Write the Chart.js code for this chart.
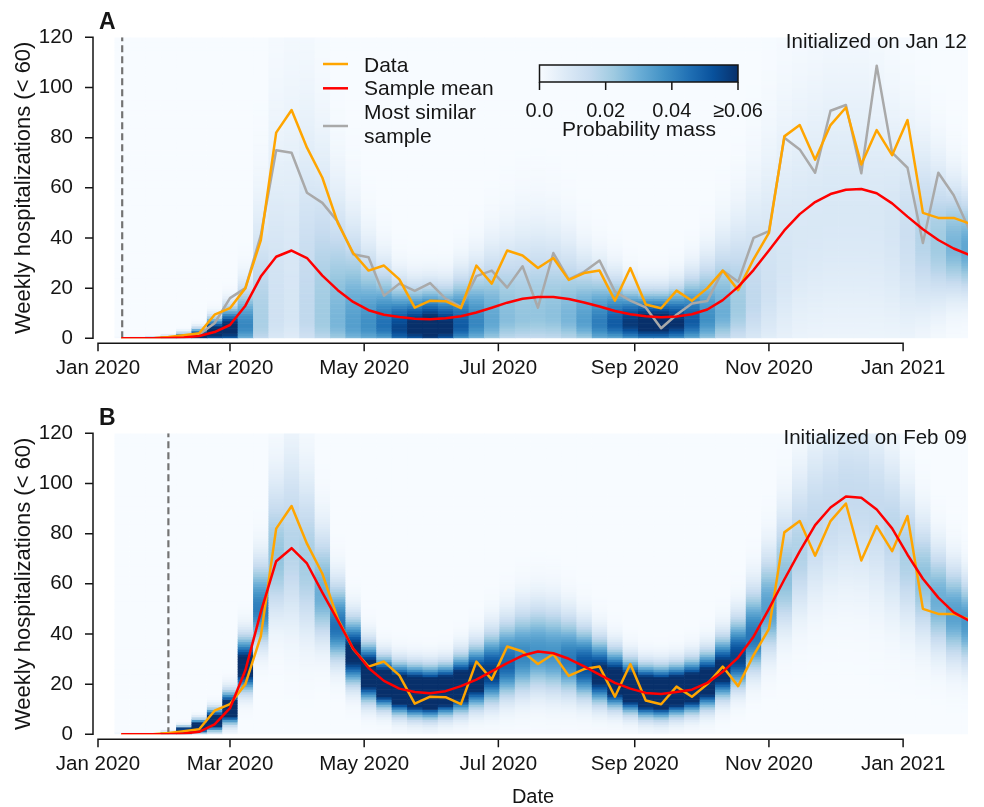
<!DOCTYPE html>
<html>
<head>
<meta charset="utf-8">
<script src="https://cdn.jsdelivr.net/npm/chart.js@4.4.1/dist/chart.umd.min.js"></script>
<style>
  html, body { margin: 0; padding: 0; background: #ffffff; }
  #wrap { position: relative; width: 984px; height: 807px; overflow: hidden; }
  canvas { position: absolute; left: 0; }
</style>
</head>
<body>
<div id="wrap">
  <canvas id="panelA" width="984" height="396" style="top:0px"></canvas>
  <canvas id="panelB" width="984" height="411" style="top:396px"></canvas>
</div>
<script>
// ---- categories ----------------------------------------------------------
const firstWeek = '2020-01-12';
const weekCount = 56;
const tickDates = ['2020-01-01', '2020-03-01', '2020-05-01', '2020-07-01', '2020-09-01', '2020-11-01', '2021-01-01'];
const tickLabels = ['Jan 2020', 'Mar 2020', 'May 2020', 'Jul 2020', 'Sep 2020', 'Nov 2020', 'Jan 2021'];
const initDates = ['2020-01-12', '2020-02-02'];
const initLabels = ['Initialized on Jan 12', 'Initialized on Feb 09'];

// ---- weekly series ---------------------------------------------------------
const observed = [0, 0, 0, 0.5, 1.2, 2, 9.4, 12, 20, 39,
  82, 91, 76, 64, 46, 34, 27, 29, 23.5, 12.2,
  15, 14.8, 12, 29, 21.8, 35, 33, 28, 32, 23.3,
  26, 27, 15, 28, 13.5, 12, 19, 15, 20, 27,
  19.2, 31.5, 42, 80.5, 85, 71.2, 85, 92, 69.3, 83,
  73, 87, 50, 48, 48, 45.8];

const meanA = [0, 0, 0, 0.1, 0.3, 0.9, 2.5, 5.3, 13, 24.6,
  32.5, 35, 32, 25, 19.2, 14.5, 11.2, 9.4, 8.5, 7.8,
  7.6, 8, 8.8, 10.3, 12.2, 14.2, 15.8, 16.5, 16.5, 15.7,
  14.3, 12.7, 10.9, 9.6, 8.8, 8.4, 8.7, 9.6, 11.5, 15.2,
  20.5, 27.2, 35, 43, 49.5, 54.3, 57.5, 59.2, 59.5, 57.8,
  53.8, 48.5, 43.5, 39.2, 35.8, 33.3];

const similarA = [0, 0, 0, 0.2, 0.5, 1.5, 6, 16, 20, 41,
  75, 74, 58, 54, 46.5, 33.5, 32.3, 17, 21.8, 18.9,
  22, 15.8, 12.5, 24.8, 27, 20.2, 28.7, 12.2, 34, 23.5,
  26.5, 31, 18.6, 15, 12.3, 4, 9.4, 13.9, 14.9, 27,
  22.5, 40, 42.7, 80, 75.3, 66, 90.7, 93, 65.8, 108.7,
  74, 68, 38, 66, 57, 43.5];

const meanB = [0, 0, 0, 0, 0.3, 1, 4, 10.4, 25.5, 48.7,
  69, 74.2, 68.1, 56.5, 45.4, 34.2, 26.4, 21.3, 18.2, 16.9,
  16.4, 17.2, 19.2, 21.8, 25.1, 28.4, 31.4, 33, 32.3, 30.1,
  27.1, 23.8, 20.5, 18.2, 16.5, 16.1, 16.9, 17.8, 20.5, 24.9,
  30.6, 38.9, 50, 61.7, 72.9, 83.4, 90.4, 94.8, 94.3, 89.6,
  82.1, 71.6, 62, 54.5, 48.6, 45.3];

// ---- forecast distribution per week: densest value, spread below / above, peak mass ----
const bandModeA = [0, 0, 0, 0, 0.5, 1, 3, 4, 5, 6,
  8, 10, 8, 7, 6, 5, 5, 5, 4, 4,
  4, 4, 5, 6, 7, 8, 8, 9, 9, 8,
  7, 6, 6, 6, 6, 6, 6, 7, 8, 10,
  12, 15, 20, 30, 40, 45, 50, 50, 50, 48,
  45, 42, 40, 38, 37, 36];
const bandDownA = [1, 1, 1, 1, 2, 3, 4, 5, 6, 8,
  10, 12, 10, 9, 8, 7, 7, 6, 6, 6,
  6, 6, 6, 7, 8, 8, 8, 9, 9, 8,
  7, 7, 6, 6, 6, 6, 6, 7, 8, 9,
  11, 14, 18, 25, 30, 32, 35, 35, 35, 33,
  30, 26, 20, 16, 13, 12];
const bandUpA = [0.3, 0.4, 0.5, 0.7, 1.3, 2, 3.5, 5.5, 10, 28,
  48, 55, 50, 40, 30, 24, 18, 14, 11, 10,
  10, 10, 12, 14, 17, 19, 21, 21, 20, 18,
  15, 13, 11, 9, 8, 8, 9, 11, 14, 18,
  22, 28, 34, 38, 38, 38, 38, 38, 38, 36,
  32, 28, 24, 20, 16, 14];
const bandPeakA = [0.005, 0.01, 0.03, 0.065, 0.05, 0.065, 0.065, 0.065, 0.04, 0.02,
  0.012, 0.01, 0.016, 0.022, 0.028, 0.034, 0.038, 0.045, 0.055, 0.062,
  0.068, 0.062, 0.05, 0.04, 0.032, 0.026, 0.024, 0.024, 0.025, 0.028,
  0.034, 0.042, 0.05, 0.058, 0.066, 0.066, 0.06, 0.05, 0.038, 0.03,
  0.022, 0.016, 0.012, 0.01, 0.009, 0.009, 0.009, 0.009, 0.009, 0.009,
  0.01, 0.013, 0.018, 0.022, 0.028, 0.032];

const bandModeB = [0, 0, 0, 0.3, 1.5, 3, 5.5, 10, 27, 50,
  70, 75, 68, 56, 43, 32, 24, 20, 17.5, 16.5,
  16, 17, 19, 21.5, 24.5, 28, 31, 33, 32, 30,
  27, 23.5, 20.5, 18, 16.5, 16, 17, 18, 20.5, 25,
  30.5, 39, 50, 62, 73, 83, 90, 95, 94, 90,
  82, 72, 62, 54, 48.5, 45];
const bandDownB = [0.5, 0.5, 0.5, 0.6, 1, 1.5, 2.5, 3.5, 6, 9,
  15, 20, 18, 12, 9, 7.5, 6.5, 5.5, 5.5, 5.5,
  5.5, 5.5, 6, 6.5, 7.5, 8.5, 9.5, 10, 10, 9,
  8, 7, 6, 5.5, 5.5, 5.5, 5.5, 5.5, 6, 6.5,
  7.5, 9, 11, 13, 16, 19, 21, 23, 23, 23,
  21, 18, 15, 13, 12, 11];
const bandUpB = [0.4, 0.4, 0.4, 0.6, 1.2, 2, 3, 4.5, 7.5, 12,
  20, 25, 22, 16, 11, 9, 7.5, 6.5, 6.5, 6.5,
  6.5, 6.5, 7.5, 8.5, 10, 11, 12, 12, 12, 11,
  10, 9, 8, 7, 6.5, 6.5, 6.5, 7, 7.5, 8.5,
  10, 12, 14, 17, 20, 22, 22, 22, 22, 20,
  19, 17, 15, 13, 12, 11];
const bandPeakB = [0.005, 0.005, 0.005, 0.05, 0.08, 0.08, 0.08, 0.08, 0.07, 0.042,
  0.024, 0.018, 0.021, 0.03, 0.045, 0.065, 0.08, 0.09, 0.095, 0.1,
  0.1, 0.095, 0.085, 0.072, 0.058, 0.048, 0.04, 0.037, 0.037, 0.043,
  0.053, 0.065, 0.078, 0.09, 0.1, 0.1, 0.095, 0.09, 0.08, 0.068,
  0.056, 0.044, 0.034, 0.025, 0.019, 0.016, 0.015, 0.015, 0.015, 0.015,
  0.017, 0.02, 0.025, 0.03, 0.034, 0.036];

const colorbarTicks = [0, 0.02, 0.04, 0.06];
const colorbarLabels = ['0.0', '0.02', '0.04', '\u22650.06'];

// ---- helpers ---------------------------------------------------------------
const INK = '#151515';
const FONT = "'Liberation Sans', Arial, Helvetica, sans-serif";
const MASS_MAX = 0.06;
const BLUES = [[247, 251, 255], [222, 235, 247], [198, 219, 239], [158, 202, 225],
  [107, 174, 214], [66, 146, 198], [33, 113, 181], [8, 81, 156], [8, 48, 107]];

function blues(t) {
  t = Math.max(0, Math.min(1, t));
  const s = t * (BLUES.length - 1);
  const i = Math.min(Math.floor(s), BLUES.length - 2);
  const f = s - i, a = BLUES[i], b = BLUES[i + 1];
  return 'rgb(' + [0, 1, 2].map(c => Math.round(a[c] + (b[c] - a[c]) * f)).join(',') + ')';
}

const ORIGIN = Date.UTC(2020, 0, 1);
function dayOf(iso) {
  const [y, m, d] = iso.split('-').map(Number);
  return (Date.UTC(y, m - 1, d) - ORIGIN) / 86400000;
}
const weekDays = Array.from({ length: weekCount }, (_, i) => dayOf(firstWeek) + 7 * i);
const tickDays = tickDates.map(dayOf);
const X_MAX = 395.5;
const Y_MAX = 120;

// ---- plugins ---------------------------------------------------------------
function heatmapPlugin(mode, down, up, peak, initDay) {
  return {
    id: 'heatmap',
    beforeDatasetsDraw(chart) {
      const { ctx, chartArea: a, scales: { x, y } } = chart;
      ctx.save();
      ctx.beginPath();
      ctx.rect(a.left, a.top, a.right - a.left, a.bottom - a.top);
      ctx.clip();
      weekDays.forEach((d, k) => {
        const x0 = x.getPixelForValue(d - 3.5);
        const x1 = x.getPixelForValue(d + 3.5);
        for (let b = 0; b < Y_MAX; b++) {
          const v = b + 0.5;
          const dist = v - mode[k];
          const s = dist < 0 ? down[k] : up[k];
          const p = peak[k] * Math.exp(-0.5 * (dist / s) * (dist / s));
          const yTop = y.getPixelForValue(b + 1);
          const yBot = y.getPixelForValue(b);
          ctx.fillStyle = blues(p / MASS_MAX);
          ctx.fillRect(x0, yTop, x1 - x0 + 0.6, yBot - yTop + 0.6);
        }
      });
      // initialization marker
      const xi = x.getPixelForValue(initDay);
      ctx.strokeStyle = '#737373';
      ctx.lineWidth = 2.2;
      ctx.setLineDash([7, 4]);
      ctx.beginPath();
      ctx.moveTo(xi, y.getPixelForValue(0));
      ctx.lineTo(xi, y.getPixelForValue(Y_MAX));
      ctx.stroke();
      ctx.restore();
    }
  };
}

function decorPlugin(letter, initLabel, withLegend) {
  return {
    id: 'decor',
    afterDraw(chart) {
      const { ctx, chartArea: a, scales: { x, y } } = chart;
      ctx.save();
      // offset spines with outward ticks
      ctx.strokeStyle = INK;
      ctx.lineWidth = 1.5;
      ctx.beginPath();
      const sx = a.left - 5;
      ctx.moveTo(sx, y.getPixelForValue(0) + 0.75);
      ctx.lineTo(sx, y.getPixelForValue(Y_MAX) - 0.75);
      y.ticks.forEach(t => {
        const py = y.getPixelForValue(t.value);
        ctx.moveTo(sx, py); ctx.lineTo(sx - 8, py);
      });
      const sy = a.bottom + 5;
      ctx.moveTo(x.getPixelForValue(tickDays[0]) - 0.75, sy);
      ctx.lineTo(x.getPixelForValue(tickDays[tickDays.length - 1]) + 0.75, sy);
      tickDays.forEach(d => {
        const px = x.getPixelForValue(d);
        ctx.moveTo(px, sy); ctx.lineTo(px, sy + 8);
      });
      ctx.stroke();

      // panel letter
      ctx.fillStyle = INK;
      ctx.font = 'bold 23px ' + FONT;
      ctx.textAlign = 'left';
      ctx.textBaseline = 'alphabetic';
      ctx.fillText(letter, a.left + 1, 29.3);

      // initialization note
      ctx.font = '20.5px ' + FONT;
      ctx.textAlign = 'right';
      ctx.fillText(initLabel, a.right - 1, 48);

      if (withLegend) {
        const ds = chart.data.datasets;
        const rows = [
          { ds: ds.find(d => d.label === 'Data'), lineY: 64, text: ['Data'], base: [71.5] },
          { ds: ds.find(d => d.label === 'Sample mean'), lineY: 88.3, text: ['Sample mean'], base: [95] },
          { ds: ds.find(d => d.label === 'Most similar sample'), lineY: 126, text: ['Most similar', 'sample'], base: [119, 142.5] }
        ];
        ctx.font = '21px ' + FONT;
        ctx.textAlign = 'left';
        rows.forEach(r => {
          ctx.strokeStyle = r.ds.borderColor;
          ctx.lineWidth = 2.5;
          ctx.beginPath();
          ctx.moveTo(323, r.lineY); ctx.lineTo(348, r.lineY);
          ctx.stroke();
          ctx.fillStyle = INK;
          r.text.forEach((t, i) => ctx.fillText(t, 364, r.base[i]));
        });

        // colorbar
        const cx0 = 539.5, cx1 = 738, cy0 = 65, cy1 = 82;
        const grad = ctx.createLinearGradient(cx0, 0, cx1, 0);
        for (let i = 0; i <= 16; i++) grad.addColorStop(i / 16, blues(i / 16));
        ctx.fillStyle = grad;
        ctx.fillRect(cx0, cy0, cx1 - cx0, cy1 - cy0);
        ctx.strokeStyle = INK;
        ctx.lineWidth = 1.5;
        ctx.strokeRect(cx0, cy0, cx1 - cx0, cy1 - cy0);
        ctx.beginPath();
        colorbarTicks.forEach(t => {
          const px = cx0 + (cx1 - cx0) * t / MASS_MAX;
          ctx.moveTo(px, cy1); ctx.lineTo(px, cy1 + 8);
        });
        ctx.stroke();
        ctx.fillStyle = INK;
        ctx.font = '20px ' + FONT;
        ctx.textAlign = 'center';
        colorbarTicks.forEach((t, i) => {
          const px = cx0 + (cx1 - cx0) * t / MASS_MAX;
          ctx.fillText(colorbarLabels[i], px, 117);
        });
        ctx.font = '21px ' + FONT;
        ctx.fillText('Probability mass', 639, 135.5);
      }
      ctx.restore();
    }
  };
}

// ---- panels ----------------------------------------------------------------
function series(values) {
  return weekDays.map((d, i) => ({ x: d, y: values[i] }));
}

function makePanel(id, opts) {
  const datasets = [
    { label: 'Sample mean', data: series(opts.mean), borderColor: '#ff0000', order: 0 },
    { label: 'Data', data: series(observed), borderColor: '#ffa500', order: 1 }
  ];
  if (opts.similar) {
    datasets.push({ label: 'Most similar sample', data: series(opts.similar), borderColor: '#a9a9a9', order: 2 });
  }
  datasets.forEach(d => { d.borderWidth = 2.5; d.fill = false; d.pointRadius = 0; });

  return new Chart(document.getElementById(id), {
    type: 'line',
    data: { datasets },
    options: {
      responsive: false,
      animation: false,
      events: [],
      layout: { padding: { top: 33.3, right: 16, bottom: 0, left: 0 } },
      elements: { line: { tension: 0, borderJoinStyle: 'round', borderCapStyle: 'round' } },
      plugins: { legend: { display: false }, tooltip: { enabled: false } },
      scales: {
        x: {
          type: 'linear', min: 0, max: X_MAX,
          grid: { display: false, drawTicks: false },
          border: { display: false },
          afterBuildTicks: s => { s.ticks = tickDays.map(v => ({ value: v })); },
          afterFit: s => { s.height = opts.xHeight; },
          ticks: {
            autoSkip: false, maxRotation: 0, padding: 17.7, color: INK,
            font: { family: FONT, size: 20.5 },
            callback: (v, i) => tickLabels[i]
          },
          title: {
            display: !!opts.xTitle, text: opts.xTitle || '', color: INK,
            font: { family: FONT, size: 20, lineHeight: 1 }, padding: { top: 0, bottom: 0 }
          }
        },
        y: {
          min: 0, max: Y_MAX,
          grid: { display: false, drawTicks: false },
          border: { display: false },
          afterFit: s => { s.width = 98; },
          ticks: { stepSize: 20, padding: 25, color: INK, font: { family: FONT, size: 20.5 } },
          title: {
            display: true, text: 'Weekly hospitalizations (< 60)', color: INK,
            font: { family: FONT, size: 22 }, padding: { top: 11, bottom: 0 }
          }
        }
      }
    },
    plugins: [
      heatmapPlugin(opts.mode, opts.down, opts.up, opts.peak, dayOf(opts.init)),
      decorPlugin(opts.letter, opts.initLabel, !!opts.similar)
    ]
  });
}

makePanel('panelA', {
  letter: 'A', mean: meanA, similar: similarA,
  mode: bandModeA, down: bandDownA, up: bandUpA, peak: bandPeakA,
  init: initDates[0], initLabel: initLabels[0], xHeight: 57.7
});
makePanel('panelB', {
  letter: 'B', mean: meanB, similar: null,
  mode: bandModeB, down: bandDownB, up: bandUpB, peak: bandPeakB,
  init: initDates[1], initLabel: initLabels[1], xHeight: 72.7, xTitle: 'Date'
});
</script>
</body>
</html>
